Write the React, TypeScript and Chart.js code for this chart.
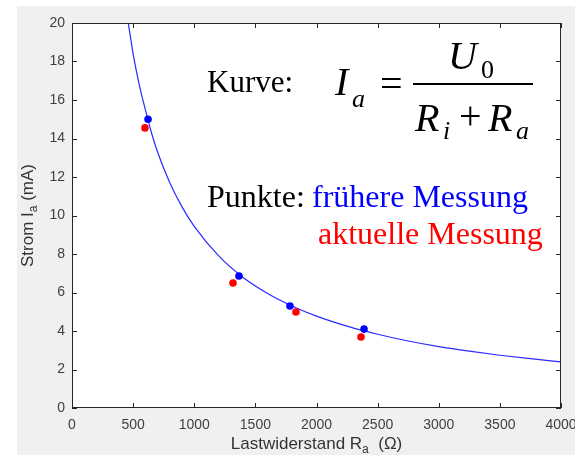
import React, { useEffect, useRef } from "react";
import { Chart, registerables } from "chart.js";

Chart.register(...registerables);

// Axis ticks
const xTickValues = [0, 500, 1000, 1500, 2000, 2500, 3000, 3500, 4000];
const yTickValues = [0, 2, 4, 6, 8, 10, 12, 14, 16, 18, 20];

// Curve I_a = U0 / (Ri + Ra)
const curveR = [455, 480, 500, 550, 600, 650, 700, 800, 900, 1000, 1200, 1400, 1600, 1800, 2000, 2250, 2500, 2750, 3000, 3250, 3500, 3750, 4000];
const curveI = [20.2, 19.2, 18.4, 16.8, 15.5, 14.3, 13.3, 11.7, 10.45, 9.43, 7.9, 6.78, 5.95, 5.3, 4.77, 4.25, 3.83, 3.48, 3.19, 2.95, 2.74, 2.56, 2.4];

// Points: frühere Messung (blue)
const earlierR = [622, 1366, 1783, 2389];
const earlierI = [15.0, 6.86, 5.3, 4.1];

// Points: aktuelle Messung (red)
const currentR = [597, 1317, 1832, 2364];
const currentI = [14.55, 6.49, 4.99, 3.69];

const W = 575;
const H = 455;
const AXIS = "#262626";
const SANS = '"Liberation Sans", Arial, Helvetica, sans-serif';
const SERIF = '"Liberation Serif", "Times New Roman", serif';

function txt(ctx: CanvasRenderingContext2D, s: string, x: number, y: number, font: string, color: string) {
  ctx.font = font;
  ctx.fillStyle = color;
  ctx.fillText(s, x, y);
}

const framePlugin = {
  id: "framePlugin",
  beforeDraw(chart: any) {
    const { ctx, chartArea: a } = chart;
    ctx.save();
    ctx.fillStyle = "#ffffff";
    ctx.fillRect(0, 0, W, H);
    ctx.fillStyle = "#f0f0f0";
    ctx.fillRect(17, 6, W - 17, H - 6);
    ctx.fillStyle = "#ffffff";
    ctx.fillRect(a.left, a.top, a.right - a.left, a.bottom - a.top);
    ctx.restore();
  },
  afterDraw(chart: any) {
    const { ctx, chartArea: a, scales } = chart;
    ctx.save();
    // frame
    ctx.strokeStyle = AXIS;
    ctx.lineWidth = 1;
    ctx.strokeRect(a.left + 0.5, a.top + 0.5, a.right - a.left - 1, a.bottom - a.top - 1);
    // inward ticks
    const tl = 5;
    ctx.beginPath();
    xTickValues.forEach((v) => {
      const px = Math.round(scales.x.getPixelForValue(v)) + 0.5;
      ctx.moveTo(px, a.bottom);
      ctx.lineTo(px, a.bottom - tl);
      ctx.moveTo(px, a.top);
      ctx.lineTo(px, a.top + tl);
    });
    yTickValues.forEach((v) => {
      const py = Math.round(scales.y.getPixelForValue(v)) + 0.5;
      ctx.moveTo(a.left, py);
      ctx.lineTo(a.left + tl, py);
      ctx.moveTo(a.right, py);
      ctx.lineTo(a.right - tl, py);
    });
    ctx.stroke();

    // x axis title: Lastwiderstand R_a (Ω)
    ctx.textBaseline = "alphabetic";
    ctx.textAlign = "left";
    const mainF = `17px ${SANS}`;
    const subF = `12px ${SANS}`;
    const titleColor = "#333333";
    ctx.font = mainF;
    const p1 = "Lastwiderstand R";
    const p3 = "  (Ω)";
    const w1 = ctx.measureText(p1).width;
    const w3 = ctx.measureText(p3).width;
    ctx.font = subF;
    const w2 = ctx.measureText("a").width;
    const total = w1 + w2 + w3;
    const cx = (a.left + a.right) / 2;
    const x0 = cx - total / 2;
    const by = 449;
    txt(ctx, p1, x0, by, mainF, titleColor);
    txt(ctx, "a", x0 + w1, by + 4, subF, titleColor);
    txt(ctx, p3, x0 + w1 + w2, by, mainF, titleColor);

    // y axis title: Strom I_a (mA)
    ctx.save();
    ctx.translate(33, (a.top + a.bottom) / 2);
    ctx.rotate(-Math.PI / 2);
    ctx.font = mainF;
    const q1 = "Strom I";
    const q3 = " (mA)";
    const v1 = ctx.measureText(q1).width;
    const v3 = ctx.measureText(q3).width;
    ctx.font = subF;
    const v2 = ctx.measureText("a").width;
    const tot2 = v1 + v2 + v3;
    const y0 = -tot2 / 2;
    txt(ctx, q1, y0, 0, mainF, titleColor);
    txt(ctx, "a", y0 + v1, 4, subF, titleColor);
    txt(ctx, q3, y0 + v1 + v2, 0, mainF, titleColor);
    ctx.restore();

    // annotations
    txt(ctx, "Kurve:", 207, 92, `31px ${SERIF}`, "#000000");
    const mf = `italic 40px ${SERIF}`;
    const mr = `40px ${SERIF}`;
    const sf = `italic 26px ${SERIF}`;
    const sr = `26px ${SERIF}`;
    txt(ctx, "I", 335, 95, mf, "#000");
    txt(ctx, "a", 352, 107, sf, "#000");
    txt(ctx, "=", 380, 97, mr, "#000");
    ctx.fillStyle = "#000";
    ctx.fillRect(413, 83, 120, 2);
    txt(ctx, "U", 448, 69, mf, "#000");
    txt(ctx, "0", 481, 78, sr, "#000");
    txt(ctx, "R", 415, 131, mf, "#000");
    txt(ctx, "i", 443, 139, sf, "#000");
    txt(ctx, "+", 459, 129, mr, "#000");
    txt(ctx, "R", 488, 131, mf, "#000");
    txt(ctx, "a", 516, 139, sf, "#000");

    txt(ctx, "Punkte:", 207, 207, `32px ${SERIF}`, "#000000");
    txt(ctx, "frühere Messung", 312, 207, `32px ${SERIF}`, "#0000ff");
    txt(ctx, "aktuelle Messung", 318, 244, `32px ${SERIF}`, "#ff0000");
    ctx.restore();
  },
};

export default function App() {
  const ref = useRef<HTMLCanvasElement | null>(null);

  useEffect(() => {
    document.body.style.margin = "0";
    const canvas = ref.current;
    if (!canvas) return;
    const chart = new Chart(canvas, {
      type: "scatter",
      data: {
        datasets: [
          {
            label: "aktuelle Messung",
            data: currentR.map((r, i) => ({ x: r, y: currentI[i] })),
            pointRadius: 3.8,
            pointBackgroundColor: "#ff0000",
            pointBorderWidth: 0,
            borderColor: "#ff0000",
            backgroundColor: "#ff0000",
          },
          {
            label: "frühere Messung",
            data: earlierR.map((r, i) => ({ x: r, y: earlierI[i] })),
            pointRadius: 3.8,
            pointBackgroundColor: "#0000ff",
            pointBorderWidth: 0,
            borderColor: "#0000ff",
            backgroundColor: "#0000ff",
          },
          {
            label: "Kurve",
            data: curveR.map((r, i) => ({ x: r, y: curveI[i] })),
            showLine: true,
            pointRadius: 0,
            borderColor: "#2a2aff",
            borderWidth: 1.2,
            cubicInterpolationMode: "monotone",
            fill: false,
          } as any,
        ],
      },
      options: {
        responsive: false,
        animation: false,
        maintainAspectRatio: false,
        layout: { padding: { top: 23, right: 14, left: 0, bottom: 0 } },
        plugins: {
          legend: { display: false },
          tooltip: { enabled: false },
        },
        scales: {
          x: {
            type: "linear",
            min: 0,
            max: 4000,
            grid: { display: false, drawTicks: false },
            border: { display: false },
            ticks: {
              stepSize: 500,
              autoSkip: false,
              maxRotation: 0,
              padding: 9,
              color: "#404040",
              font: { family: SANS, size: 14 },
              callback: (v: any) => String(v),
            },
            afterFit(scale: any) {
              scale.height = 47;
              scale.paddingLeft = 0;
              scale.paddingRight = 0;
            },
          },
          y: {
            type: "linear",
            min: 0,
            max: 20,
            grid: { display: false, drawTicks: false },
            border: { display: false },
            ticks: {
              stepSize: 2,
              autoSkip: false,
              padding: 7,
              color: "#404040",
              font: { family: SANS, size: 14 },
              callback: (v: any) => String(v),
            },
            afterFit(scale: any) {
              scale.width = 72;
              scale.paddingTop = 0;
              scale.paddingBottom = 0;
            },
          },
        },
      },
      plugins: [framePlugin],
    });
    return () => chart.destroy();
  }, []);

  return (
    <div style={{ position: "absolute", left: 0, top: 0, width: W, height: H }}>
      <canvas ref={ref} width={W} height={H} style={{ display: "block", width: W, height: H }} />
    </div>
  );
}
